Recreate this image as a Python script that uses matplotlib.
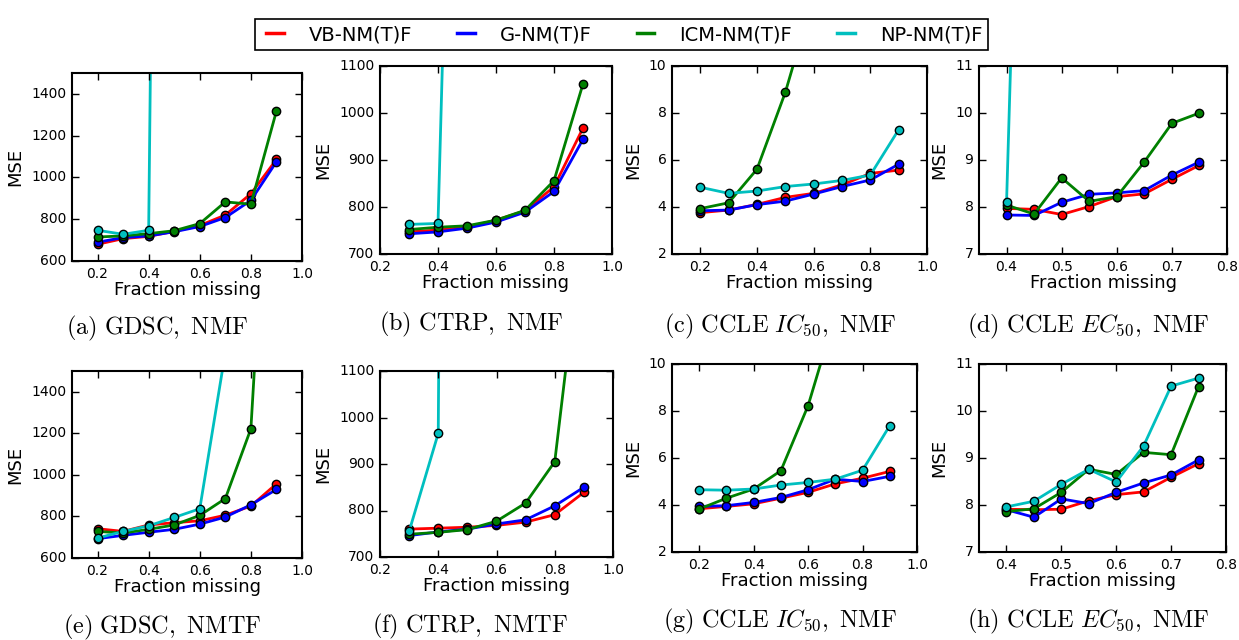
import matplotlib
matplotlib.use('Agg')
import matplotlib.pyplot as plt
from matplotlib.lines import Line2D
from matplotlib.ticker import MultipleLocator

plt.style.use('classic')
plt.rcParams['mathtext.fontset'] = 'cm'

methods = ['VB-NM(T)F', 'G-NM(T)F', 'ICM-NM(T)F', 'NP-NM(T)F']
colours = ['r', 'b', 'g', 'c']

# fractions missing
x_gdsc = [0.2, 0.3, 0.4, 0.5, 0.6, 0.7, 0.8, 0.9]
x_ctrp = [0.3, 0.4, 0.5, 0.6, 0.7, 0.8, 0.9]
x_ic50 = [0.2, 0.3, 0.4, 0.5, 0.6, 0.7, 0.8, 0.9]
x_ec50 = [0.4, 0.45, 0.5, 0.55, 0.6, 0.65, 0.7, 0.75]

# (a) GDSC, NMF
a_vb = [680, 707, 718, 742, 770, 820, 922, 1086]
a_g = [690, 712, 720, 740, 765, 808, 890, 1075]
a_icm = [715, 720, 731, 745, 779, 883, 872, 1318]
a_np = [747, 728, 747, 12000, 15000, 18000, 20000, 22000]

# (b) CTRP, NMF
b_vb = [747, 751, 757, 772, 792, 843, 968]
b_g = [743, 747, 755, 768, 789, 833, 944]
b_icm = [752, 757, 760, 772, 793, 856, 1062]
b_np = [763, 765, 3000, 4000, 5000, 6000, 7000]

# (c) CCLE IC50, NMF
c_vb = [3.76, 3.87, 4.11, 4.41, 4.58, 4.94, 5.43, 5.57]
c_g = [3.84, 3.87, 4.10, 4.25, 4.55, 4.87, 5.15, 5.82]
c_icm = [3.93, 4.18, 5.61, 8.88, 13.0, 16.0, 20.0, 25.0]
c_np = [4.84, 4.58, 4.68, 4.87, 4.98, 5.13, 5.36, 7.29]

# (d) CCLE EC50, NMF
d_vb = [7.97, 7.95, 7.84, 8.01, 8.22, 8.28, 8.59, 8.89]
d_g = [7.83, 7.82, 8.10, 8.27, 8.30, 8.35, 8.68, 8.96]
d_icm = [8.04, 7.85, 8.62, 8.12, 8.22, 8.96, 9.78, 10.0]
d_np = [8.10, 28.0, 30.0, 32.0, 34.0, 36.0, 38.0, 40.0]

# (e) GDSC, NMTF
e_vb = [741, 728, 759, 770, 779, 806, 850, 957]
e_g = [693, 709, 724, 738, 763, 797, 856, 930]
e_icm = [728, 720, 738, 759, 805, 886, 1222, 3300]
e_np = [696, 728, 755, 795, 837, 1590, 3000, 5000]

# (f) CTRP, NMTF
f_vb = [760, 762, 764, 768, 775, 791, 839]
f_g = [746, 754, 760, 771, 780, 810, 850]
f_icm = [749, 753, 759, 777, 816, 905, 1430]
f_np = [755, 966, 10000, 12000, 14000, 16000, 18000]

# (g) CCLE IC50, NMF
g_vb = [3.84, 3.94, 4.05, 4.29, 4.54, 4.90, 5.14, 5.43]
g_g = [3.94, 3.97, 4.11, 4.32, 4.65, 5.10, 5.00, 5.22]
g_icm = [3.83, 4.29, 4.68, 5.46, 8.23, 12.1, 16.0, 20.0]
g_np = [4.65, 4.63, 4.68, 4.85, 4.96, 5.10, 5.48, 7.38]

# (h) CCLE EC50, NMF
h_vb = [7.91, 7.90, 7.91, 8.09, 8.22, 8.28, 8.59, 8.88]
h_g = [7.90, 7.74, 8.13, 8.03, 8.27, 8.47, 8.64, 8.96]
h_icm = [7.86, 7.92, 8.27, 8.76, 8.65, 9.12, 9.07, 10.52]
h_np = [7.96, 8.08, 8.44, 8.76, 8.49, 9.26, 10.53, 10.70]

captions = [r'$\mathrm{(a)\ GDSC,\ NMF}$', r'$\mathrm{(b)\ CTRP,\ NMF}$',
            r'$\mathrm{(c)\ CCLE\ }IC_{50}\mathrm{,\ NMF}$', r'$\mathrm{(d)\ CCLE\ }EC_{50}\mathrm{,\ NMF}$',
            r'$\mathrm{(e)\ GDSC,\ NMTF}$', r'$\mathrm{(f)\ CTRP,\ NMTF}$',
            r'$\mathrm{(g)\ CCLE\ }IC_{50}\mathrm{,\ NMF}$', r'$\mathrm{(h)\ CCLE\ }EC_{50}\mathrm{,\ NMF}$']

W, H = 1239, 640
fig = plt.figure(figsize=(W / 100, H / 100), dpi=100, facecolor='white')

# panel: x values, series, pixel box (left, right, top, bottom), xlim, ylim, ystep, xstep, caption centre
panels = [
    (x_gdsc, [a_vb, a_g, a_icm, a_np], (72, 302, 73, 261), (0.1, 1.0), (600, 1500), 200, 0.2, (157, 328)),
    (x_ctrp, [b_vb, b_g, b_icm, b_np], (380, 612, 66, 254), (0.2, 1.0), (700, 1100), 100, 0.2, (471, 324)),
    (x_ic50, [c_vb, c_g, c_icm, c_np], (672, 927, 66, 254), (0.1, 1.0), (2, 10), 2, 0.2, (780, 326)),
    (x_ec50, [d_vb, d_g, d_icm, d_np], (979, 1227, 66, 254), (0.35, 0.8), (7, 11), 1, 0.1, (1088, 326)),
    (x_gdsc, [e_vb, e_g, e_icm, e_np], (72, 302, 371, 558), (0.1, 1.0), (600, 1500), 200, 0.2, (162, 627)),
    (x_ctrp, [f_vb, f_g, f_icm, f_np], (380, 613, 371, 557), (0.2, 1.0), (700, 1100), 100, 0.2, (470, 626)),
    (x_ic50, [g_vb, g_g, g_icm, g_np], (672, 917, 364, 552), (0.1, 1.0), (2, 10), 2, 0.2, (780, 621)),
    (x_ec50, [h_vb, h_g, h_icm, h_np], (979, 1226, 364, 552), (0.35, 0.8), (7, 11), 1, 0.1, (1088, 621)),
]

for i, (xs, series, box, xlim, ylim, ystep, xstep, cpos) in enumerate(panels):
    l, r, t, b = box
    ax = fig.add_axes([l / W, 1 - b / H, (r - l) / W, (b - t) / H])
    for ys, col in zip(series, colours):
        ax.plot(xs, ys, color=col, lw=2, marker='o', ms=6, mec='k', mew=1)
    ax.set_xlim(*xlim)
    ax.set_ylim(*ylim)
    ax.xaxis.set_major_locator(MultipleLocator(xstep))
    ax.yaxis.set_major_locator(MultipleLocator(ystep))
    ax.tick_params(labelsize=10, length=5, width=1)
    for s in ax.spines.values():
        s.set_linewidth(1.5)
    ax.set_xlabel('Fraction missing', fontsize=13, labelpad=0)
    ax.set_ylabel('MSE', fontsize=13)
    fig.text(cpos[0] / W, 1 - cpos[1] / H, captions[i], fontsize=17.5, ha='center', va='center')

handles = [Line2D([], [], color=c, lw=2.5) for c in colours]
leg = fig.legend(handles, methods, loc='upper center', bbox_to_anchor=(0.5016, 0.985), ncol=4,
                 fontsize=14, handlelength=1.5, handletextpad=1.0, columnspacing=2.0,
                 fancybox=False, borderpad=0.3)
leg.get_frame().set_edgecolor('k')
leg.get_frame().set_linewidth(1.2)

fig.savefig('out.png', dpi=100, facecolor='white')
